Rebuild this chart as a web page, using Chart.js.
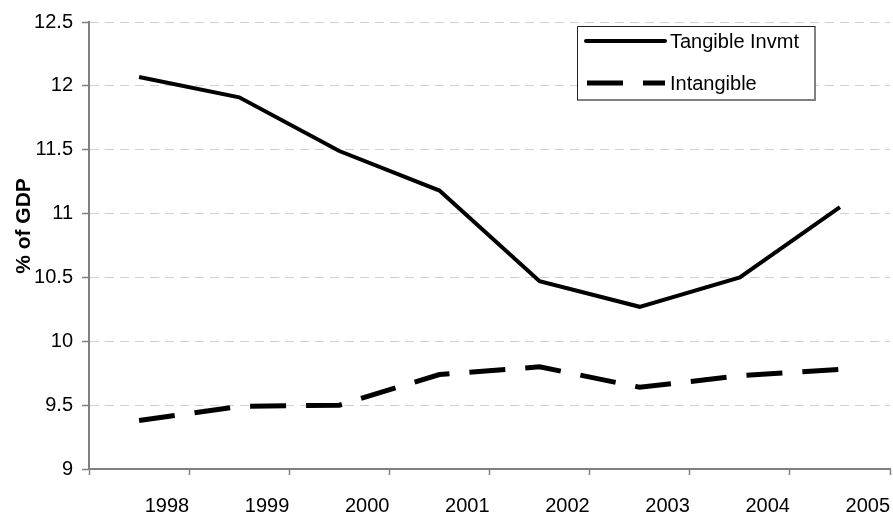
<!DOCTYPE html>
<html>
<head>
<meta charset="utf-8">
<script src="https://cdn.jsdelivr.net/npm/chart.js@4"></script>
<style>
  html, body { margin: 0; padding: 0; background: #fff; }
  #wrap { width: 893px; height: 514px; }
</style>
</head>
<body>
<div id="wrap"><canvas id="chart" width="893" height="514"></canvas></div>
<script>
// ── Data ──────────────────────────────────────────────────────────────────────
const YEARS      = ['1998', '1999', '2000', '2001', '2002', '2003', '2004', '2005'];
const TANGIBLE   = [12.07, 11.91, 11.49, 11.18, 10.47, 10.27, 10.50, 11.05];
const INTANGIBLE = [9.38, 9.49, 9.50, 9.74, 9.80, 9.64, 9.73, 9.78];
const Y_TICKS    = [9, 9.5, 10, 10.5, 11, 11.5, 12, 12.5];

const FONT  = "'Liberation Sans', Arial, sans-serif";
const AXIS  = '#808080';
const GRID  = '#d0d0d0';

Chart.defaults.font.family = FONT;
Chart.defaults.font.size   = 20;
Chart.defaults.color       = '#000';

// points sit in the middle of each year slot, labels hang on the slot's right edge
const toXY = vals => vals.map((v, i) => ({ x: i + 0.5, y: v }));

// ── Y axis title, drawn where Excel put it ───────────────────────────────────
const yTitle = {
    id: 'yTitle',
    afterDraw(chart) {
        const ctx = chart.ctx;
        ctx.save();
        ctx.translate(24, 226);
        ctx.rotate(-Math.PI / 2);
        ctx.font = `bold 21px ${FONT}`;
        ctx.fillStyle = '#000';
        ctx.textAlign = 'center';
        ctx.textBaseline = 'middle';
        ctx.fillText('% of GDP', 0, 0);
        ctx.restore();
    }
};

// ── Boxed legend ─────────────────────────────────────────────────────────────
const boxLegend = {
    id: 'boxLegend',
    afterDraw(chart) {
        const ctx = chart.ctx;
        const box = { x: 577, y: 26, w: 238, h: 74 };
        ctx.save();
        ctx.fillStyle = '#fff';
        ctx.fillRect(box.x, box.y, box.w, box.h);
        // shadowed right/bottom edge
        ctx.strokeStyle = AXIS;
        ctx.lineWidth = 2;
        ctx.beginPath();
        ctx.moveTo(box.x + box.w, box.y);
        ctx.lineTo(box.x + box.w, box.y + box.h);
        ctx.lineTo(box.x, box.y + box.h);
        ctx.stroke();
        ctx.strokeStyle = '#222';
        ctx.lineWidth = 1;
        ctx.beginPath();
        ctx.moveTo(box.x + 0.5, box.y + box.h);
        ctx.lineTo(box.x + 0.5, box.y + 0.5);
        ctx.lineTo(box.x + box.w, box.y + 0.5);
        ctx.stroke();

        const rows = [41, 83];
        chart.data.datasets.forEach((ds, i) => {
            const y = rows[i];
            ctx.strokeStyle = ds.borderColor;
            ctx.lineWidth = ds.borderWidth;
            ctx.lineCap = ds.borderDash ? 'butt' : 'round';
            ctx.setLineDash(ds.borderDash || []);
            ctx.beginPath();
            ctx.moveTo(ds.borderDash ? 587 : 586, y);
            ctx.lineTo(665, y);
            ctx.stroke();
            ctx.setLineDash([]);
            ctx.fillStyle = '#000';
            ctx.font = `20px ${FONT}`;
            ctx.textAlign = 'left';
            ctx.textBaseline = 'middle';
            ctx.fillText(ds.label, 670, y + 1);
        });
        ctx.restore();
    }
};

new Chart(document.getElementById('chart'), {
    type: 'line',
    data: {
        datasets: [
            { label: 'Tangible Invmt', data: toXY(TANGIBLE),
              borderColor: '#000', borderWidth: 4, pointRadius: 0, tension: 0 },
            { label: 'Intangible', data: toXY(INTANGIBLE),
              borderColor: '#000', borderWidth: 5, borderDash: [36, 20], pointRadius: 0, tension: 0 }
        ]
    },
    options: {
        responsive: false,
        animation: false,
        layout: { padding: { top: 22, right: 3, left: 0, bottom: 0 } },
        plugins: { legend: { display: false }, tooltip: { enabled: false } },
        scales: {
            x: {
                type: 'linear',
                min: 0, max: YEARS.length,
                afterBuildTicks: s => { s.ticks = YEARS.concat('').map((_, i) => ({ value: i })); },
                afterFit: s => { s.height = 45; s.paddingLeft = 0; s.paddingRight = 0; },
                ticks: {
                    align: 'end',
                    padding: 19,
                    callback: v => v >= 1 ? YEARS[v - 1] : ''
                },
                grid: { drawOnChartArea: false, tickLength: 6, tickColor: AXIS, tickWidth: 1.5 },
                border: { color: AXIS, width: 2 }
            },
            y: {
                min: Y_TICKS[0], max: Y_TICKS[Y_TICKS.length - 1],
                afterBuildTicks: s => { s.ticks = Y_TICKS.map(v => ({ value: v })); },
                afterFit: s => { s.width = 89; },
                ticks: { padding: 9, callback: v => String(v) },
                grid: { color: GRID, lineWidth: 1, tickLength: 7, tickColor: AXIS, tickWidth: 1.5 },
                border: { color: AXIS, width: 2, dash: [9, 6] }
            }
        }
    },
    plugins: [yTitle, boxLegend]
});
</script>
</body>
</html>
